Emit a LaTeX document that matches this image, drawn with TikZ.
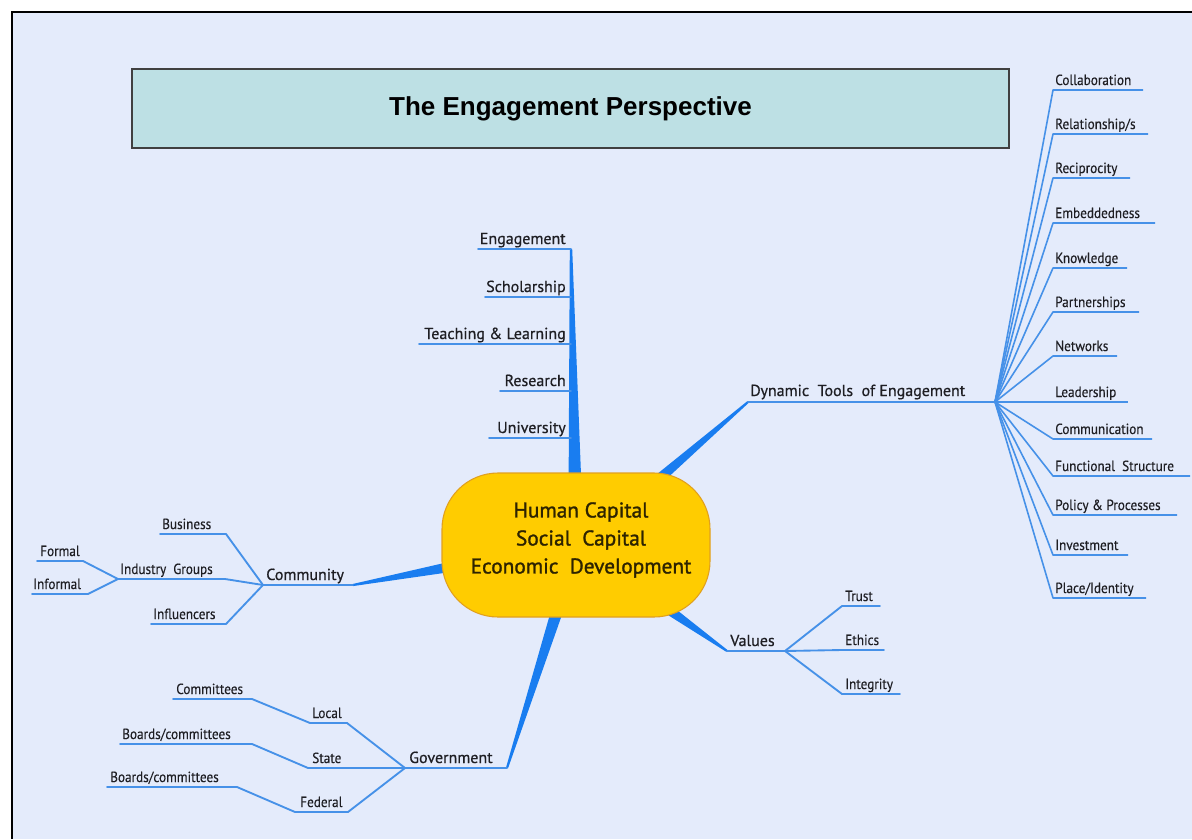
\documentclass[tikz,border=0pt]{standalone}
\usepackage{fontspec}
\setmainfont{PT Sans}
\newfontfamily\titlefont{Liberation Sans}
\newfontfamily\labelfont[FakeBold=0.6]{PT Sans}
\newfontfamily\corefont[FakeBold=1.3]{PT Sans}
\newfontfamily\narrowfont[FakeStretch=0.9,FakeBold=0.3]{PT Sans}
\usetikzlibrary{calc}
\definecolor{bg}{RGB}{228,235,251}
\definecolor{titlefill}{RGB}{189,224,228}
\definecolor{branch}{RGB}{25,125,240}
\definecolor{twig}{RGB}{70,145,232}
\definecolor{gold}{RGB}{255,204,0}
\definecolor{goldedge}{RGB}{225,160,30}
\definecolor{ink}{RGB}{30,30,35}
\definecolor{coreink}{RGB}{45,35,0}
\newcommand\branchtaper[4]{\fill[branch] ($(#1)!#3!90:(#2)$) -- ($(#2)!#4!-90:(#1)$) -- ($(#2)!#4!90:(#1)$) -- ($(#1)!#3!-90:(#2)$) -- cycle;}
\begin{document}
\begin{tikzpicture}[x=0.75pt,y=-0.75pt,
  lbl/.style={font=\labelfont\fontsize{12}{14}\selectfont, text=ink, inner sep=0pt},
  small/.style={font=\narrowfont\fontsize{11}{13}\selectfont, text=ink, inner sep=0pt},
  twigline/.style={draw=twig, line width=1.4pt, line join=round, line cap=round}]
\useasboundingbox (0,0) rectangle (1192,839);
\fill[white] (0,0) rectangle (1192,839);
\fill[bg] (12,12) rectangle (1192,839);
\draw[black, line width=1.5pt] (12,839) -- (12,12) -- (1192,12);

% title
\node[draw=black!75, line width=1.2pt, fill=titlefill, minimum width=657.75pt, minimum height=59.25pt, inner sep=0pt] (title) at (570.5,108.5)
  {\titlefont\bfseries\fontsize{19.5}{21}\selectfont The Engagement Perspective};

% main branches
\coordinate (uniB) at (575,485); \coordinate (uniT) at (571,249);
\coordinate (dynB) at (652,485); \coordinate (dynE) at (748,402);
\coordinate (comB) at (455,566); \coordinate (comE) at (353,585);
\coordinate (govB) at (558,608); \coordinate (govE) at (507,768);
\coordinate (valB) at (662,605); \coordinate (valE) at (727,651);
\branchtaper{uniB}{uniT}{4.8pt}{0.9pt}
\branchtaper{dynB}{dynE}{4pt}{0.8pt}
\branchtaper{comB}{comE}{4pt}{0.8pt}
\branchtaper{govB}{govE}{4.5pt}{0.8pt}
\branchtaper{valB}{valE}{4pt}{0.8pt}

% University
\foreach \nm/\xl/\yy/\tx in {eng/478/249/Engagement, sch/485/297/Scholarship, tea/419/344/{Teaching \& Learning}, res/500/391/Research, uni/489/438/University}{
  \coordinate (\nm L) at (\xl,\yy);
  \draw[twigline] (\nm L) -- (\nm L -| uniT);
  \node[lbl, anchor=base east] (\nm) at ($(\nm L -| uniT)+(-5,-5)$) {\tx};
}

% Dynamic tools
\coordinate (dynhub) at (995,402);
\draw[twigline] (dynE) -- (dynhub);
\node[lbl, anchor=base west] (dyn) at ($(dynE)+(2,-6)$) {Dynamic\ \ Tools\ \ of Engagement};
\foreach \nm/\yy/\xe/\tx in {col/90/1143/Collaboration, rel/134/1148/{Relationship/s}, rec/178/1130/Reciprocity, emb/223/1155/Embeddedness, kno/268/1127/Knowledge, par/312/1139/Partnerships, net/356/1117/Networks, lea/402/1128/Leadership, com/439/1152/Communication, fun/476/1190/{Functional\ \ Structure}, pol/515/1177/{Policy \& Processes}, inv/555/1128/Investment, pla/598/1146/{Place/Identity}}{
  \coordinate (\nm L) at (1053,\yy); \coordinate (\nm R) at (\xe,\yy);
  \draw[draw=twig, line width=1.2pt, line join=round] (dynhub) -- (\nm L) -- (\nm R);
  \node[small, anchor=base west] (\nm) at ($(\nm L)+(2,-5)$) {\tx};
}

% Community
\coordinate (comhub) at (263,585);
\draw[twigline] (comE) -- (comhub);
\node[lbl, anchor=base west] (community) at ($(comhub)+(3,-5)$) {Community};
\coordinate (busL) at (160,534); \coordinate (busR) at (226,534);
\coordinate (indL) at (118,579); \coordinate (indR) at (225,579);
\coordinate (infL) at (151,624); \coordinate (infR) at (226,624);
\coordinate (forL) at (37,561); \coordinate (forR) at (83,561);
\coordinate (iflL) at (32,594); \coordinate (iflR) at (88,594);
\draw[twigline] (busL) -- (busR) -- (comhub);
\draw[twigline] (indL) -- (indR) -- (comhub);
\draw[twigline] (infL) -- (infR) -- (comhub);
\draw[twigline] (forL) -- (forR) -- (indL);
\draw[twigline] (iflL) -- (iflR) -- (indL);
\node[small, anchor=base west] (business) at ($(busL)+(2,-5)$) {Business};
\node[small, anchor=base west] (industry) at ($(indL)+(2,-5)$) {Industry\ \ Groups};
\node[small, anchor=base west] (influencers) at ($(infL)+(2,-5)$) {Influencers};
\node[small, anchor=base west] (formal) at ($(forL)+(3,-5)$) {Formal};
\node[small, anchor=base west] (informal) at ($(iflL)+(1,-5)$) {Informal};

% Government
\coordinate (govhub) at (405,768);
\draw[twigline] (govE) -- (govhub);
\node[lbl, anchor=base west] (government) at ($(govhub)+(4,-5)$) {Government};
\coordinate (locL) at (310,723); \coordinate (locR) at (347,723);
\coordinate (staL) at (308,768);
\coordinate (fedL) at (295,812); \coordinate (fedR) at (348,812);
\coordinate (c1L) at (173,699); \coordinate (c1R) at (252,699);
\coordinate (b1L) at (120,744); \coordinate (b1R) at (252,744);
\coordinate (b2L) at (107,787); \coordinate (b2R) at (237,787);
\draw[twigline] (c1L) -- (c1R) -- (locL) -- (locR) -- (govhub);
\draw[twigline] (b1L) -- (b1R) -- (staL) -- (govhub);
\draw[twigline] (b2L) -- (b2R) -- (fedL) -- (fedR) -- (govhub);
\node[small, anchor=base west] (local) at ($(locL)+(2,-5)$) {Local};
\node[small, anchor=base west] (state) at ($(staL)+(4,-5)$) {State};
\node[small, anchor=base west] (federal) at ($(fedL)+(5,-5)$) {Federal};
\node[small, anchor=base west] (committees) at ($(c1L)+(3,-5)$) {Committees};
\node[small, anchor=base west] (boards1) at ($(b1L)+(2,-5)$) {Boards/committees};
\node[small, anchor=base west] (boards2) at ($(b2L)+(3,-5)$) {Boards/committees};

% Values
\coordinate (valhub) at (785,651);
\draw[twigline] (valE) -- (valhub);
\node[lbl, anchor=base west] (values) at ($(valE)+(3,-5)$) {Values};
\foreach \nm/\yy/\xe/\tx in {tru/606/880/Trust, eth/650/884/Ethics, int/694/900/Integrity}{
  \coordinate (\nm L) at (842,\yy); \coordinate (\nm R) at (\xe,\yy);
  \draw[twigline] (valhub) -- (\nm L) -- (\nm R);
  \node[small, anchor=base west] (\nm) at ($(\nm L)+(3,-5)$) {\tx};
}

% core
\node[draw=goldedge, line width=0.8pt, fill=gold, rounded corners=42pt, minimum width=201pt, minimum height=108pt] (core) at (576,545) {};
\node[align=center, text=coreink, font=\corefont\fontsize{16}{21}\selectfont, inner sep=0pt] (coretext) at (581,540)
  {Human Capital\\Social\ \ Capital\\Economic\ \ Development};
\end{tikzpicture}
\end{document}
